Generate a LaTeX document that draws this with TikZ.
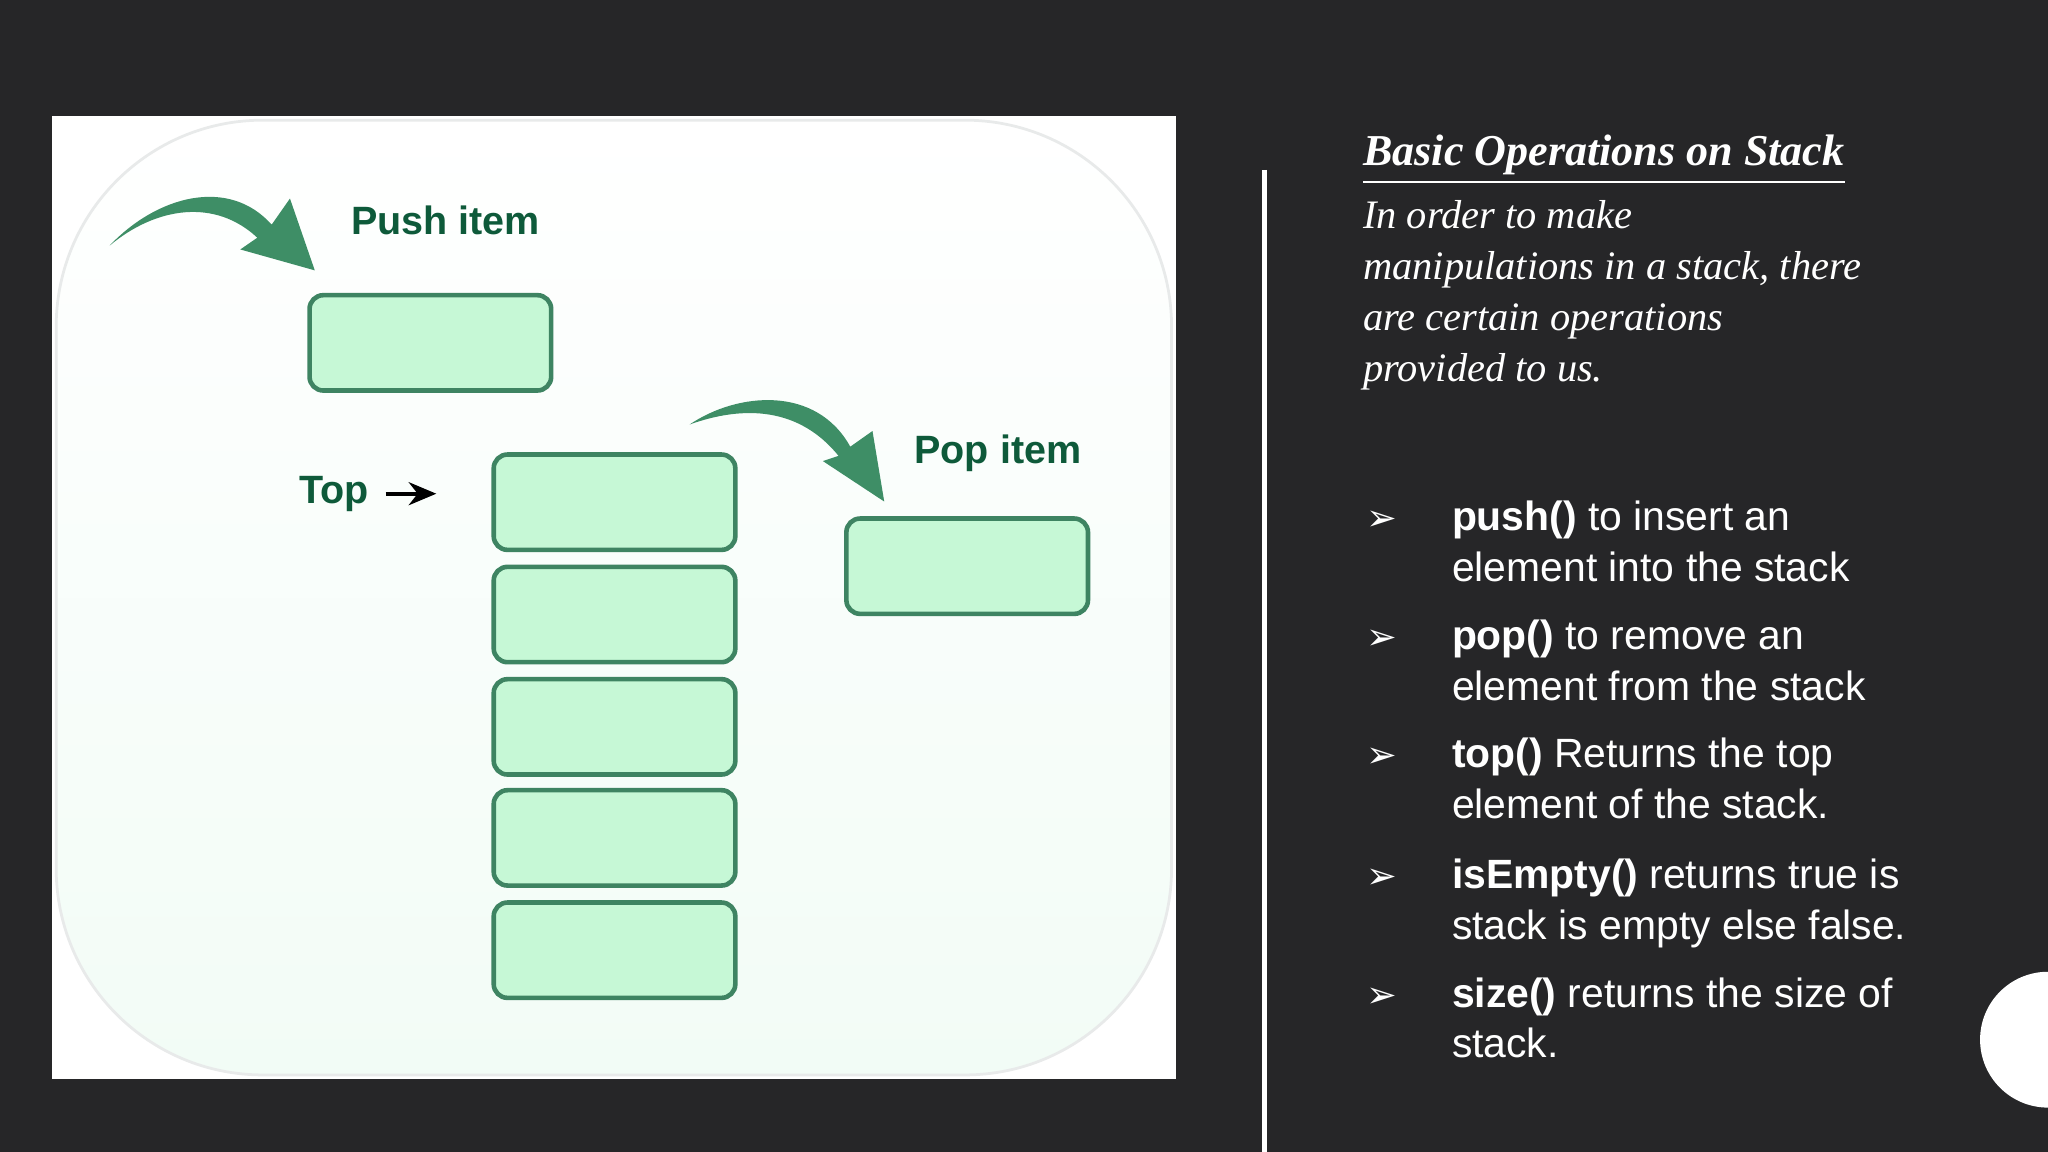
\documentclass[tikz,border=0pt]{standalone}
\usepackage{fontspec}
\setmainfont{Liberation Serif}
\setsansfont{Liberation Sans}
\newfontfamily\dejavu{DejaVu Sans}
\usetikzlibrary{arrows.meta}
\definecolor{bg}{HTML}{262628}
\definecolor{boxfill}{HTML}{C6F8D6}
\definecolor{boxline}{HTML}{3E8462}
\definecolor{arrowg}{HTML}{3E8E66}
\definecolor{txtg}{HTML}{0E5A3A}
\begin{document}
\begin{tikzpicture}[x=0.01cm,y=-0.01cm,
  cell/.style={draw=boxline,line width=1pt,fill=boxfill,rounded corners=3pt,minimum width=185*0.01cm,minimum height=73*0.01cm,inner sep=0pt},
  glab/.style={font=\sffamily\bfseries\fontsize{8.6}{10}\selectfont,text=txtg,inner sep=0pt},
  rtxt/.style={font=\itshape\fontsize{8.8}{11}\selectfont,text=white,anchor=base west,inner sep=0pt},
  btxt/.style={font=\sffamily\fontsize{8.9}{11}\selectfont,text=white,anchor=base west,inner sep=0pt},
  bul/.style={font=\dejavu\fontsize{8}{10}\selectfont,text=white,anchor=base,inner sep=0pt}]
\useasboundingbox (0,0) rectangle (1568,882);
\fill[bg] (0,0) rectangle (1568,882);
% panel
\fill[white] (40,89) rectangle (900,826);
\shade[top color=white,bottom color={rgb,255:red,242;green,252;blue,246},rounded corners=45pt,draw={rgb,255:red,232;green,234;blue,234},line width=0.6pt] (43,92) rectangle (897,823);
% boxes
\node[cell] (push) at (329.5,262.5) {};
\node[cell] (s1) at (470.5,384.5) {};
\node[cell] (s2) at (470.5,470.5) {};
\node[cell] (s3) at (470.5,556.5) {};
\node[cell] (s4) at (470.5,641.5) {};
\node[cell] (s5) at (470.5,727.5) {};
\node[cell] (pop) at (740.5,433.5) {};
% labels
\node[glab] (pushlab) at (341,169) {Push item};
\node[glab] (poplab) at (764,347) {Pop item};
\node[glab] (toplab) at (256,378) {Top};
\draw[-{Stealth[length=6pt,width=5pt]},line width=0.9pt] (toplab.east) ++(12,0) coordinate (ta) -- ([xshift=-12]s1.west |- toplab.east);
% swoosh arrows
\fill[arrowg] (84,188) .. controls (120,150) and (175,135) .. (208,172) -- (222,152) -- (241,207) -- (184,191) -- (197,182) .. controls (165,152) and (120,158) .. (84,188) -- cycle;
\fill[arrowg] (528,325) .. controls (565,300) and (625,295) .. (651,342) -- (668,330) -- (677,384) -- (630,353) -- (642,349) .. controls (612,312) and (570,310) .. (528,325) -- cycle;
% right side
\draw[white,line width=1.2pt] (968,130) -- (968,882);
\node[rtxt,font=\bfseries\itshape\fontsize{9.6}{11}\selectfont] (title) at (1043,127) {\underline{Basic Operations on Stack}};
\node[rtxt] (l1) at (1043,175) {In order to make};
\node[rtxt] (l2) at (1043,214) {manipulations in a stack, there};
\node[rtxt] (l3) at (1043,253) {are certain operations};
\node[rtxt] (l4) at (1043,292) {provided to us.};
\foreach \y/\a/\b [count=\i] in {
 406/{\textbf{push()} to insert an}/{element into the stack},
 497/{\textbf{pop()} to remove an}/{element from the stack},
 588/{\textbf{top()} Returns the top}/{element of the stack.},
 680/{\textbf{isEmpty()} returns true is}/{stack is empty else false.},
 771/{\textbf{size()} returns the size of}/{stack.}}{
 \node[bul] (b\i) at (1058,\y) {➢};
 \node[btxt] (ta\i) at (1111,\y) {\a};
 \node[btxt] (tb\i) at (1111,\y+39) {\b};
}
\fill[white] (1568,796) circle (52);
\end{tikzpicture}
\end{document}
